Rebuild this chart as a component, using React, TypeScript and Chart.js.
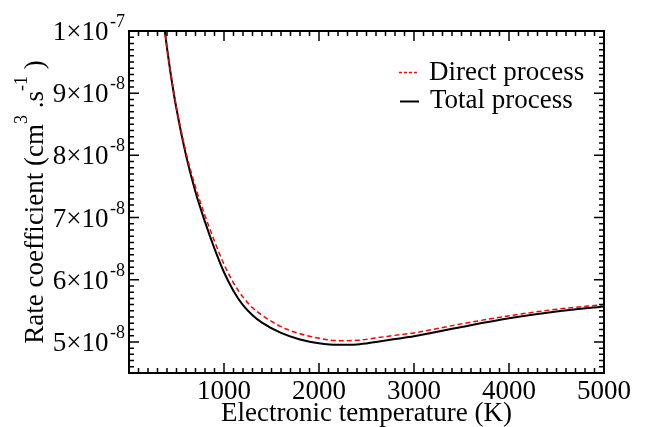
import React, { useEffect, useRef } from "react";
import { Chart, registerables } from "chart.js";

Chart.register(...registerables);

// Electronic temperature (K)
const temperatures = [350, 400, 450, 500, 600, 700, 800, 900, 1000, 1100, 1200, 1300, 1400, 1600, 1800, 2000, 2200, 2400, 2600, 2800, 3000, 3500, 4000, 4500, 5000];
// Rate coefficient (cm^3.s^-1)
const totalProcess = [10.32e-8, 9.73e-8, 9.2e-8, 8.745e-8, 8.0e-8, 7.41e-8, 6.93e-8, 6.5e-8, 6.12e-8, 5.82e-8, 5.59e-8, 5.43e-8, 5.31e-8, 5.145e-8, 5.04e-8, 4.98e-8, 4.955e-8, 4.96e-8, 5.0e-8, 5.045e-8, 5.09e-8, 5.24e-8, 5.38e-8, 5.49e-8, 5.57e-8];
const directProcess = [10.32e-8, 9.73e-8, 9.21e-8, 8.765e-8, 8.05e-8, 7.49e-8, 7.03e-8, 6.62e-8, 6.25e-8, 5.95e-8, 5.72e-8, 5.55e-8, 5.43e-8, 5.245e-8, 5.13e-8, 5.06e-8, 5.02e-8, 5.025e-8, 5.065e-8, 5.105e-8, 5.145e-8, 5.29e-8, 5.42e-8, 5.525e-8, 5.6e-8];

const xMajorTicks = [1000, 2000, 3000, 4000, 5000];
const xMinorStep = 100;
const yMajorMantissas = [5, 6, 7, 8, 9, 1];
const yMajorExponents = [-8, -8, -8, -8, -8, -7];
const yMajorTicks = [5e-8, 6e-8, 7e-8, 8e-8, 9e-8, 1e-7];
const yMinorStep = 1e-9;

const X_MIN = 0;
const X_MAX = 5000;
const Y_MIN = 4.5e-8;
const Y_MAX = 1e-7;

const seriesNames = ["Direct process", "Total process"];
const xTitle = "Electronic temperature (K)";
const yTitleParts = [
  { text: "Rate coefficient (cm", sup: false },
  { text: "3", sup: true },
  { text: " .s", sup: false },
  { text: "-1", sup: true },
  { text: " )", sup: false },
];

const FONT = "'Liberation Serif', 'Times New Roman', serif";
const MAIN = 27;
const SUP = 18;

const xmgracePlugin = {
  id: "xmgraceFrame",
  afterDraw(chart: any) {
    const ctx: CanvasRenderingContext2D = chart.ctx;
    const { left, right, top, bottom } = chart.chartArea;
    const xs = chart.scales.x;
    const ys = chart.scales.y;
    ctx.save();
    ctx.strokeStyle = "#000";
    ctx.fillStyle = "#000";

    // ticks (inside, all four sides)
    ctx.lineWidth = 1.5;
    ctx.beginPath();
    const nx = Math.round((X_MAX - X_MIN) / xMinorStep);
    for (let i = 1; i < nx; i++) {
      const v = X_MIN + i * xMinorStep;
      const px = xs.getPixelForValue(v);
      const len = v % 1000 === 0 ? 10 : 5;
      ctx.moveTo(px, bottom);
      ctx.lineTo(px, bottom - len);
      ctx.moveTo(px, top);
      ctx.lineTo(px, top + len);
    }
    const ny = Math.round((Y_MAX - Y_MIN) / yMinorStep);
    for (let i = 1; i < ny; i++) {
      const v = Y_MIN + i * yMinorStep;
      const py = ys.getPixelForValue(v);
      const major = (45 + i) % 10 === 0;
      const len = major ? 10 : 5;
      ctx.moveTo(left, py);
      ctx.lineTo(left + len, py);
      ctx.moveTo(right, py);
      ctx.lineTo(right - len, py);
    }
    ctx.stroke();

    // frame
    ctx.lineWidth = 2;
    ctx.strokeRect(left, top, right - left, bottom - top);

    // x tick labels
    ctx.font = `${MAIN}px ${FONT}`;
    ctx.textAlign = "center";
    ctx.textBaseline = "alphabetic";
    xMajorTicks.forEach((v) => {
      ctx.fillText(String(v), xs.getPixelForValue(v), bottom + 26);
    });

    // y tick labels with superscript exponent
    ctx.textAlign = "left";
    yMajorTicks.forEach((v, i) => {
      const py = ys.getPixelForValue(v);
      const main = `${yMajorMantissas[i]}\u00d710`;
      const sup = `${yMajorExponents[i]}`;
      ctx.font = `${SUP}px ${FONT}`;
      const ws = ctx.measureText(sup).width;
      ctx.font = `${MAIN}px ${FONT}`;
      const wm = ctx.measureText(main).width;
      const xEnd = left - 4;
      ctx.fillText(main, xEnd - ws - 1.5 - wm, py + 9);
      ctx.font = `${SUP}px ${FONT}`;
      ctx.fillText(sup, xEnd - ws, py - 4);
    });

    // x title
    ctx.font = `${MAIN}px ${FONT}`;
    ctx.textAlign = "center";
    ctx.fillText(xTitle, (left + right) / 2, bottom + 48);

    // y title (rotated)
    ctx.save();
    ctx.translate(43, (top + bottom) / 2);
    ctx.rotate(-Math.PI / 2);
    ctx.textAlign = "left";
    let total = 0;
    const widths = yTitleParts.map((p) => {
      ctx.font = `${p.sup ? SUP : MAIN}px ${FONT}`;
      const w = ctx.measureText(p.text).width;
      total += w;
      return w;
    });
    let cx = -total / 2;
    yTitleParts.forEach((p, i) => {
      ctx.font = `${p.sup ? SUP : MAIN}px ${FONT}`;
      ctx.fillText(p.text, cx, p.sup ? -16 : 0);
      cx += widths[i];
    });
    ctx.restore();

    // legend
    ctx.font = `${MAIN}px ${FONT}`;
    ctx.textAlign = "left";
    ctx.lineWidth = 1.5;
    ctx.strokeStyle = "#ff0000";
    ctx.setLineDash([3, 2]);
    ctx.beginPath();
    ctx.moveTo(399, 72.5);
    ctx.lineTo(419, 72.5);
    ctx.stroke();
    ctx.setLineDash([]);
    ctx.strokeStyle = "#000";
    ctx.lineWidth = 2;
    ctx.beginPath();
    ctx.moveTo(400, 101.5);
    ctx.lineTo(419, 101.5);
    ctx.stroke();
    ctx.fillText(seriesNames[0], 429, 80);
    ctx.fillText(seriesNames[1], 430, 108);

    ctx.restore();
  },
};

export default function App() {
  const ref = useRef<HTMLCanvasElement | null>(null);
  useEffect(() => {
    if (!ref.current) return;
    const chart = new Chart(ref.current, {
      type: "line",
      data: {
        datasets: [
          {
            label: seriesNames[0],
            data: temperatures.map((t, i) => ({ x: t, y: directProcess[i] })),
            borderColor: "#ff0000",
            borderWidth: 1.5,
            borderDash: [5, 3],
            pointRadius: 0,
            cubicInterpolationMode: "monotone",
            fill: false,
          },
          {
            label: seriesNames[1],
            data: temperatures.map((t, i) => ({ x: t, y: totalProcess[i] })),
            borderColor: "#000000",
            borderWidth: 2,
            pointRadius: 0,
            cubicInterpolationMode: "monotone",
            fill: false,
          },
        ],
      },
      options: {
        responsive: false,
        animation: false,
        devicePixelRatio: 1,
        layout: { padding: { left: 129, right: 41, top: 31, bottom: 54 } },
        plugins: { legend: { display: false }, tooltip: { enabled: false } },
        scales: {
          x: { type: "linear", min: X_MIN, max: X_MAX, display: false },
          y: { type: "linear", min: Y_MIN, max: Y_MAX, display: false },
        },
      },
      plugins: [xmgracePlugin],
    });
    return () => chart.destroy();
  }, []);
  return (
    <div style={{ position: "absolute", left: 0, top: 0, width: 645, height: 427, background: "#fff" }}>
      <canvas ref={ref} width={645} height={427} style={{ display: "block" }} />
    </div>
  );
}
